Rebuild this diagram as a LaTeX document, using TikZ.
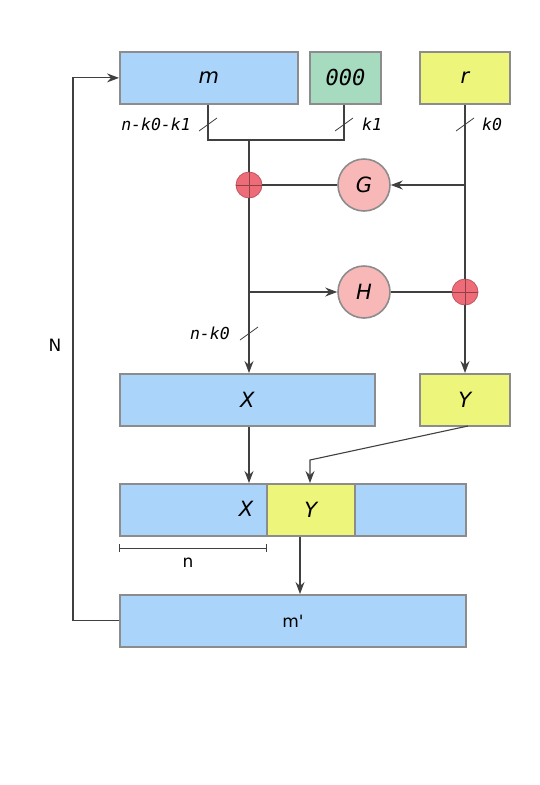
\documentclass[tikz,border=0pt]{standalone}
\usepackage{fontspec}
\setmainfont{DejaVu Sans}
\newfontfamily\plainsans{DejaVu Sans}[Ligatures=TeXOff]
\newfontfamily\monoit{DejaVu Sans Mono Oblique}
\newfontfamily\sansit{DejaVu Sans Oblique}
\usetikzlibrary{arrows.meta}
\definecolor{bblue}{HTML}{AAD4FA}
\definecolor{bgreen}{HTML}{A7DBBF}
\definecolor{byellow}{HTML}{EEF57B}
\definecolor{bpink}{HTML}{F8B8B8}
\definecolor{bred}{HTML}{EE6B78}
\definecolor{bord}{HTML}{8C8C8C}
\tikzset{
  box/.style={draw=bord,line width=1.8pt,anchor=north west,inner sep=0pt,font=\sansit\fontsize{21}{21}\selectfont},
  circ/.style={circle,draw=bord,line width=1.6pt,fill=bpink,minimum size=52pt,inner sep=0pt,font=\sansit\fontsize{21}{21}\selectfont},
  xorc/.style={circle,draw=bred!80!black,line width=0.8pt,fill=bred,minimum size=26pt,inner sep=0pt},
  conn/.style={line width=1.1pt,draw=black!75},
  arr/.style={conn,-{Stealth[length=12pt,width=9pt,inset=4pt]}},
  lbl/.style={font=\monoit\fontsize{16.5}{16.5}\selectfont,inner sep=0pt},
  tick/.style={conn,line width=0.8pt},
}
\begin{document}
\begin{tikzpicture}[x=1pt,y=-1pt]
\useasboundingbox (0,0) rectangle (540,785);
% top boxes
\node[box,fill=bblue,minimum width=178pt,minimum height=52pt] (m) at (119,51) {m};
\node[box,fill=bgreen,minimum width=71pt,minimum height=52pt,font=\monoit\fontsize{22}{22}\selectfont] (z) at (309,51) {000};
\node[box,fill=byellow,minimum width=90pt,minimum height=52pt] (r) at (419,51) {r};
% circles
\node[xorc] (x1) at (249,185) {};
\node[circ] (G) at (364,185) {G};
\node[circ] (H) at (364,292) {H};
\node[xorc] (x2) at (465,292) {};
% middle boxes
\node[box,fill=bblue,minimum width=255pt,minimum height=52pt] (X) at (119,373) {X};
\node[box,fill=byellow,minimum width=90pt,minimum height=52pt] (Y) at (419,373) {Y};
% combined
\node[box,fill=bblue,minimum width=346pt,minimum height=52pt] (C) at (119,483) {};
\node[box,fill=byellow,minimum width=88pt,minimum height=52pt] (Yc) at (266,483) {Y};
\node[font=\sansit\fontsize{21}{21}\selectfont] (Xc) at (246,509) {X};
% m'
\node[box,fill=bblue,minimum width=346pt,minimum height=52pt,font=\plainsans\fontsize{17}{17}\selectfont] (mp) at (119,594) {m'};
% coordinates
\coordinate (j1) at (208,140);
\coordinate (j2) at (344,140);
\coordinate (j0) at (249,140);
\coordinate (rg) at (465,185);
\coordinate (hs) at (249,292);
\coordinate (ys) at (468,426);
\coordinate (bend) at (310,460);
\coordinate (mc) at (300,0);
\coordinate (fb) at (73,0);
% connectors
\draw[conn] (m.south -| j1) -- (j1) -- (j2) -- (z.south -| j2);
\draw[conn] (j0) -- (x1.north);
\draw[conn] (r.south -| rg) -- (x2.north);
\draw[arr] (rg) -- (G.east);
\draw[conn] (G.west) -- (x1.east);
\draw[arr] (x1.south) -- (X.north -| x1);
\draw[arr] (hs) -- (H.west);
\draw[conn] (H.east) -- (x2.west);
\draw[arr] (x2.south) -- (Y.north -| x2);
\draw[arr] (X.south -| x1) -- (C.north -| x1);
\draw[arr] (ys) -- (bend) -- (Yc.north -| bend);
\draw[arr] (Yc.south -| mc) -- (mp.north -| mc);
\draw[arr] (mp.west) -- (mp.west -| fb) |- (m.west);
% xor crosses
\foreach \c in {x1,x2}{
  \draw[bred!60!black,line width=0.7pt] (\c.north) -- (\c.south) (\c.west) -- (\c.east);
}
% slashes
\draw[tick] (199,131) -- (217,118);
\draw[tick] (335,131) -- (353,118);
\draw[tick] (456,131) -- (474,118);
\draw[tick] (240,340) -- (258,327);
\node[lbl,anchor=east] (l1) at (191,124) {n-k0-k1};
\node[lbl,anchor=west] (l2) at (362,124) {k1};
\node[lbl,anchor=west] (l3) at (482,124) {k0};
\node[lbl,anchor=east] (l4) at (230,333) {n-k0};
% n dimension
\coordinate (d1) at (119,548);
\coordinate (d2) at (266,548);
\coordinate (d1a) at (119,544);
\coordinate (d1b) at (119,552);
\coordinate (d2a) at (266,544);
\coordinate (d2b) at (266,552);
\draw[tick] (d1) -- (d2);
\draw[tick] (d1a) -- (d1b) (d2a) -- (d2b);
\node[font=\fontsize{17}{17}\selectfont] (nl) at (188,563) {n};
\node[font=\fontsize{17}{17}\selectfont] (Nl) at (55,345) {N};
\end{tikzpicture}
\end{document}
